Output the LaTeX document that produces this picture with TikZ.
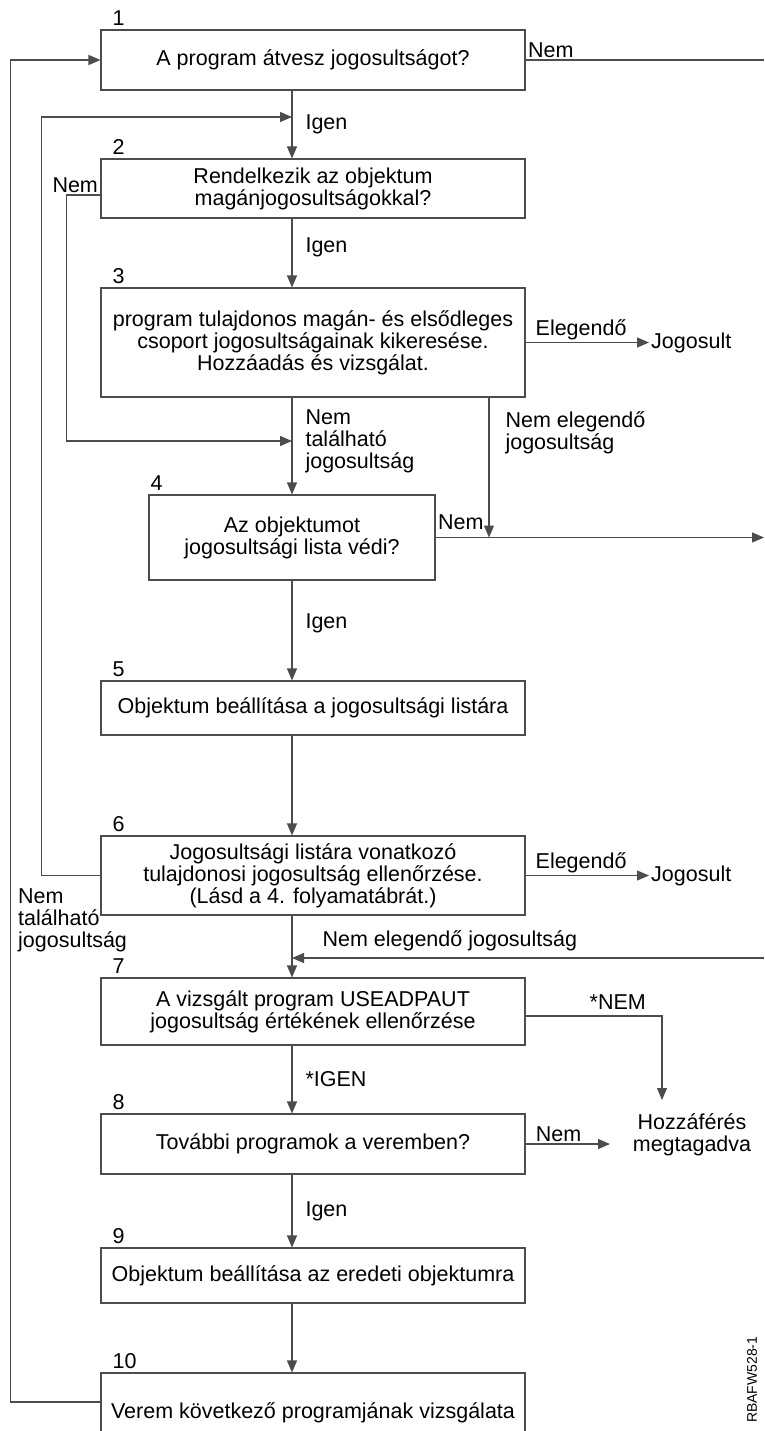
\documentclass[tikz,border=0pt]{standalone}
\usepackage{fontspec}
\setmainfont{Liberation Sans}
\usetikzlibrary{arrows.meta,positioning}

\begin{document}
\begin{tikzpicture}[x=1pt, y=-1pt,
  font=\fontsize{21.5}{22}\selectfont,
  box/.style={draw=black!70, line width=1.1pt, minimum width=424pt, align=center, inner sep=0pt},
  numlbl/.style={anchor=south west, inner sep=0pt, xshift=12pt, yshift=4pt},
  wire/.style={draw=black!70, line width=1.1pt},
  flow/.style={wire, -{Triangle[length=12pt,width=10pt]}},
  lbl/.style={inner sep=2pt, align=left}]
  \useasboundingbox (0,0) rectangle (764,1431);
  \coordinate (spine) at (292,0);
  \coordinate (edge) at (764,0);
  \coordinate (nel) at (489,0);
  \coordinate (in2) at (292,117);
  \coordinate (in4) at (292,441);
  \coordinate (in7) at (292,958);
  \coordinate (denytop) at (662,1100);
  \coordinate (denyleft) at (610,1144);

  \node[box, minimum height=60pt, label={[numlbl]north west:1}] (take) at (313,60) {A program átvesz jogosultságot?};
  \node[box, minimum height=59pt, label={[numlbl]north west:2}] (priv) at (313,188.5) {Rendelkezik az objektum\\magánjogosultságokkal?};
  \node[box, minimum height=109pt, label={[numlbl]north west:3}] (owner) at (313,342.5) {program tulajdonos magán- és elsődleges\\csoport jogosultságainak kikeresése.\\Hozzáadás és vizsgálat.};
  \node[box, minimum width=286pt, minimum height=85pt, label={[numlbl, xshift=-10pt]north west:4}] (alist) at (292,537.5) {Az objektumot\\jogosultsági lista védi?};
  \node[box, minimum height=54pt, label={[numlbl]north west:5}] (setlist) at (313,708) {Objektum beállítása a jogosultsági listára};
  \node[box, minimum height=79pt, label={[numlbl]north west:6}] (listown) at (313,875.5) {Jogosultsági listára vonatkozó\\tulajdonosi jogosultság ellenőrzése.\\(Lásd a 4. folyamatábrát.)};
  \node[box, minimum height=67pt, label={[numlbl]north west:7}] (adopt) at (313,1011.5) {A vizsgált program USEADPAUT\\jogosultság értékének ellenőrzése};
  \node[box, minimum height=60pt, label={[numlbl]north west:8}] (more) at (313,1144) {További programok a veremben?};
  \node[box, minimum height=55pt, label={[numlbl]north west:9}] (setorig) at (313,1275.5) {Objektum beállítása az eredeti objektumra};
  \node[box, minimum height=80pt, label={[numlbl]north west:10}] (next) at (313,1413) {Verem következő programjának vizsgálata};

  \node[lbl, anchor=west] (ok3) at (649,342.5) {Jogosult};
  \node[lbl, anchor=west] (ok6) at (649,875.5) {Jogosult};
  \node[align=center, inner sep=0pt] (deny) at (692,1135) {Hozzáférés\\megtagadva};
  \node[lbl, anchor=west] (notfound) at (16,920) {Nem\\található\\jogosultság};
  \node[rotate=90, anchor=east, font=\fontsize{14}{14}\selectfont] (figid) at (752,1333) {RBAFW528-1};

  \draw[wire] (take.east) -- node[lbl, pos=0, anchor=south west]{Nem} (take.east -| edge);
  \draw[flow] (take.south -| spine) -- node[lbl, right=11pt]{Igen} (priv.north -| spine);
  \draw[flow] ([yshift=-6.5pt]priv.west) -- node[lbl, pos=0, anchor=south east]{Nem} ++(-34,0) |- (in4);
  \draw[flow] (priv.south -| spine) -- node[lbl, right=11pt, pos=0.42]{Igen} (owner.north -| spine);
  \draw[flow] (owner.east) -- node[lbl, above, pos=0.45]{Elegendő} (ok3.west);
  \draw[flow] (owner.south -| spine) -- node[lbl, right=11pt, pos=0.45]{Nem\\található\\jogosultság} (alist.north -| spine);
  \draw[flow] (owner.south -| nel) -- node[lbl, right=14pt, pos=0.25]{Nem elegendő\\jogosultság} (alist.east -| nel);
  \draw[flow] (alist.east) -- node[lbl, pos=0, anchor=south west, yshift=5pt]{Nem} (alist.east -| edge);
  \draw[flow] (alist.south -| spine) -- node[lbl, right=11pt, pos=0.43]{Igen} (setlist.north -| spine);
  \draw[flow] (setlist.south -| spine) -- (listown.north -| spine);
  \draw[flow] (listown.west) -- ++(-59,0) |- (in2);
  \draw[flow] (listown.east) -- node[lbl, above, pos=0.45]{Elegendő} (ok6.west);
  \draw[flow] (listown.south -| spine) -- (adopt.north -| spine);
  \draw[flow] (in7 -| edge) -- node[lbl, pos=1, anchor=south west, xshift=28pt, yshift=4pt]{Nem elegendő jogosultság} (in7);
  \draw[flow] ([yshift=-4.5pt]adopt.east) -| node[lbl, pos=0.45, anchor=south east, yshift=4pt]{*NEM} (denytop);
  \draw[flow] (adopt.south -| spine) -- node[lbl, right=11pt]{*IGEN} (more.north -| spine);
  \draw[flow] (more.east) -- node[lbl, above, pos=0.39]{Nem} (denyleft);
  \draw[flow] (more.south -| spine) -- node[lbl, right=11pt]{Igen} (setorig.north -| spine);
  \draw[flow] (setorig.south -| spine) -- (next.north -| spine);
  \draw[flow] ([yshift=11pt]next.west) -- ++(-90,0) |- (take.west);
\end{tikzpicture}
\end{document}
